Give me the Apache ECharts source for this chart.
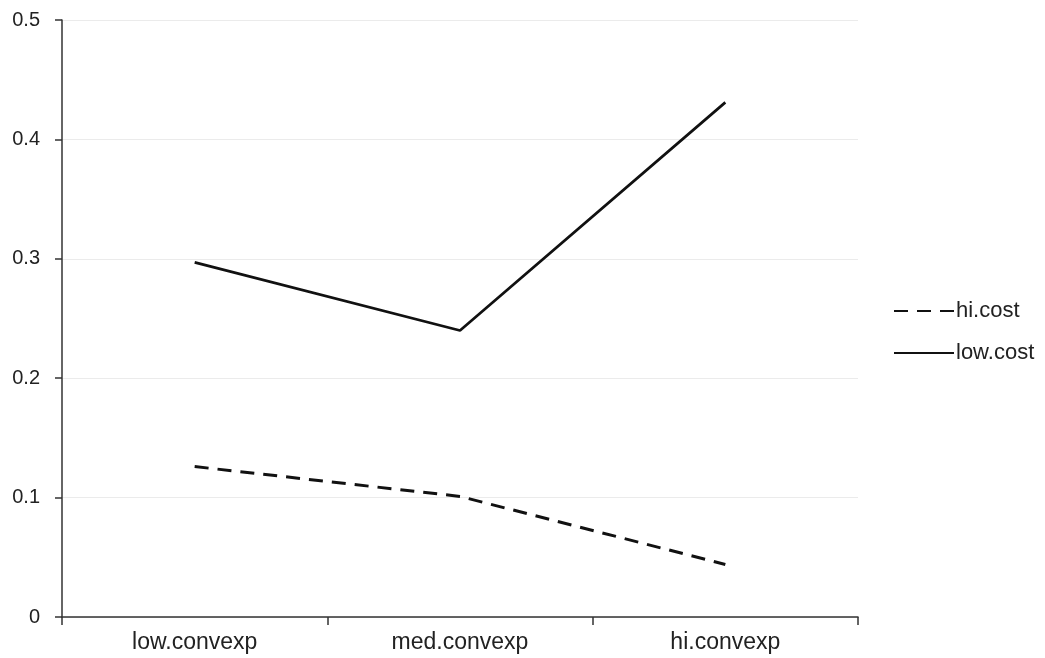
<!DOCTYPE html>
<html><head><meta charset="utf-8">
<script src="https://cdn.jsdelivr.net/npm/echarts@6/dist/echarts.min.js"></script>
<style>html,body{margin:0;padding:0;background:#fff}#c{width:1045px;height:658px}</style>
</head><body><div id="c"></div>
<script>
const categories = ['low.convexp', 'med.convexp', 'hi.convexp'];
const hiCost = [0.126, 0.101, 0.044];
const lowCost = [0.297, 0.240, 0.431];
const yTicks = [0, 0.1, 0.2, 0.3, 0.4, 0.5];

const chart = echarts.init(document.getElementById('c'));
chart.setOption({
  animation: false,
  backgroundColor: '#fff',
  textStyle: { fontFamily: 'Liberation Sans, Arial, sans-serif' },
  grid: { left: 62, right: 187, top: 20, bottom: 41, containLabel: false },
  legend: {
    orient: 'vertical', left: 893, top: 300, padding: 0,
    itemWidth: 60, itemHeight: 14, itemGap: 20, itemStyle: { opacity: 0 },
    textStyle: { fontSize: 22, lineHeight: 22, color: '#222', padding: [0, 0, 0, -3] },
    data: ['hi.cost', 'low.cost']
  },
  xAxis: {
    type: 'category', data: categories, boundaryGap: true,
    axisLine: { lineStyle: { color: '#333', width: 1.5 } },
    axisTick: { show: true, length: 8, lineStyle: { color: '#333', width: 1.5 } },
    axisLabel: { fontSize: 23, color: '#222', margin: 14 },
    splitLine: { show: false }
  },
  yAxis: {
    type: 'value', min: 0, max: 0.5, interval: 0.1,
    axisLine: { show: true, lineStyle: { color: '#333', width: 1.5 } },
    axisTick: { show: true, length: 7, lineStyle: { color: '#333', width: 1.5 } },
    axisLabel: { fontSize: 20, color: '#222', margin: 22,
      formatter: v => { const t = yTicks.find(x => Math.abs(x - v) < 1e-9); return t === 0 ? '0' : String(t); } },
    splitLine: { show: true, lineStyle: { color: '#ebebeb', width: 1 } }
  },
  series: [
    { name: 'hi.cost', type: 'line', data: hiCost, symbol: 'none',
      lineStyle: { color: '#111', width: 3, type: [14, 9] }, itemStyle: { color: '#111' } },
    { name: 'low.cost', type: 'line', data: lowCost, symbol: 'none',
      lineStyle: { color: '#111', width: 2.7 }, itemStyle: { color: '#111' } }
  ]
});
</script></body></html>
